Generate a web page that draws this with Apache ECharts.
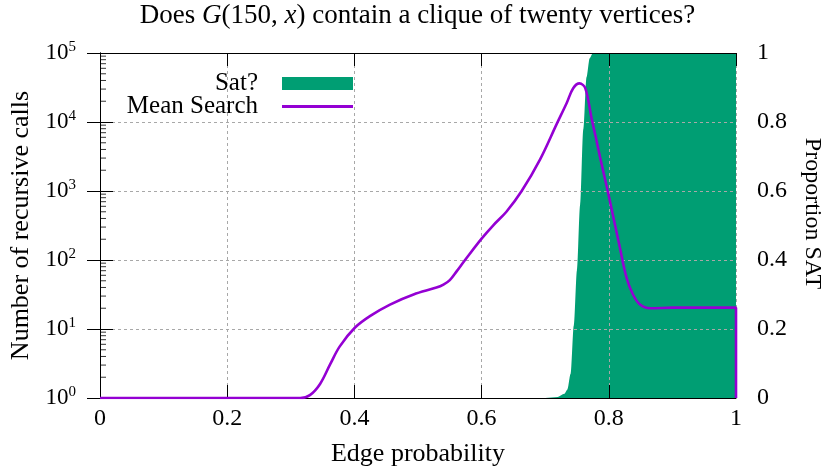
<!DOCTYPE html>
<html>
<head>
<meta charset="utf-8">
<script src="https://cdn.jsdelivr.net/npm/echarts@6/dist/echarts.min.js"></script>
<style>html,body{margin:0;padding:0;background:#fff}#c{width:835px;height:472px}</style>
</head>
<body>
<div id="c"></div>
<script>
// Mean Search: [edge probability, mean number of recursive calls]
const searchX = [0, 0.30, 0.315, 0.33, 0.346, 0.362, 0.377, 0.401, 0.425, 0.456, 0.493, 0.529, 0.540, 0.550, 0.561, 0.574, 0.600, 0.618, 0.639, 0.663, 0.692, 0.718, 0.734, 0.744, 0.754, 0.763, 0.773, 0.780, 0.786, 0.799, 0.817, 0.828, 0.838, 0.849, 0.865, 0.90, 0.99, 1.0, 1.0];
const searchY = [1, 1, 1.0, 1.1, 1.6, 3.1, 5.6, 10.5, 15.5, 22.6, 31.6, 39.8, 44, 51, 69, 100, 204, 316, 501, 1000, 2880, 9330, 19050, 30900, 36300, 30900, 11200, 5750, 3160, 933, 158, 55, 31.6, 22.6, 20.0, 20.4, 20.4, 20.4, 1];
// Sat?: [edge probability, proportion SAT]
const satX = [0, 0.70, 0.72, 0.73, 0.735, 0.74, 0.745, 0.75, 0.755, 0.76, 0.765, 0.77, 0.775, 1.0];
const satY = [0, 0, 0.003, 0.012, 0.025, 0.07, 0.21, 0.37, 0.56, 0.78, 0.93, 0.985, 1, 1];
// tick values
const leftMajorTicks = [1, 10, 100, 1000, 10000, 100000];
const leftMinorTicks = [2, 3, 4, 5, 6, 7, 8, 9, 20, 30, 40, 50, 60, 70, 80, 90,
  200, 300, 400, 500, 600, 700, 800, 900, 2000, 3000, 4000, 5000, 6000, 7000, 8000, 9000,
  20000, 30000, 40000, 50000, 60000, 70000, 80000, 90000];
const xTicks = [0, 0.2, 0.4, 0.6, 0.8, 1];
const rightTicks = [0, 0.2, 0.4, 0.6, 0.8, 1];

const FONT = 'Liberation Serif';
const FS = 24;
const GREEN = '#009e73', PURPLE = '#9400d3';
const gridLine = {show: true, lineStyle: {color: '#a8a8a8', type: [3, 3], width: 1}};
const blackLine = {show: true, lineStyle: {color: '#000', width: 1}};
const txt = {fontFamily: FONT, fontSize: FS, color: '#000'};
const nameTxt = {fontFamily: FONT, fontSize: 26, color: '#000'};
const legTxt = {fontFamily: FONT, fontSize: 25, color: '#000'};

const chart = echarts.init(document.getElementById('c'));
chart.setOption({
  animation: false,
  title: {
    text: '{n|Does }{i|G}{n|(150, }{i|x}{n|) contain a clique of twenty vertices?}',
    left: 'center', top: 2, padding: 0,
    textStyle: {
      fontWeight: 'normal',
      rich: {
        n: {fontFamily: FONT, fontSize: 27, color: '#000', fontWeight: 'normal'},
        i: {fontFamily: FONT, fontSize: 27, fontStyle: 'italic', color: '#000', fontWeight: 'normal'}
      }
    }
  },
  legend: [
    {data: [{name: 'Sat?', icon: 'rect'}], right: 482, top: 71, padding: 0, align: 'right', itemWidth: 71, itemHeight: 13,
     textStyle: Object.assign({padding: [0, 19, 0, 0]}, legTxt)},
    {data: [{name: 'Mean Search', icon: 'rect'}], right: 482, top: 94, padding: 0, align: 'right', itemWidth: 71, itemHeight: 3,
     textStyle: Object.assign({padding: [0, 19, 0, 0]}, legTxt)}
  ],
  grid: {left: 100, right: 99, top: 53, bottom: 71, containLabel: false},
  xAxis: [
    {type: 'value', min: 0, max: 1, interval: 0.2, position: 'bottom', z: 5,
     name: 'Edge probability', nameLocation: 'middle', nameGap: 43,
     nameTextStyle: nameTxt,
     axisLine: blackLine,
     axisTick: {inside: true, length: 13, lineStyle: {color: '#000'}},
     axisLabel: Object.assign({margin: 9}, txt),
     splitLine: gridLine},
    {type: 'value', min: 0, max: 1, interval: 0.2, position: 'top', z: 5,
     axisLine: blackLine,
     axisTick: {inside: true, length: 13, lineStyle: {color: '#000'}},
     axisLabel: {show: false}, splitLine: {show: false}}
  ],
  yAxis: [
    {type: 'log', logBase: 10, min: 1, max: 100000, position: 'left', z: 5,
     name: 'Number of recursive calls', nameLocation: 'middle', nameGap: 63, nameRotate: 90,
     nameTextStyle: nameTxt,
     axisLine: blackLine,
     axisTick: {inside: true, length: 13, lineStyle: {color: '#000'}},
     axisLabel: {margin: 24,
       formatter: v => '{b|10}{s|' + Math.round(Math.log10(v)) + '}',
       rich: {b: {fontFamily: FONT, fontSize: 23, color: '#000'},
              s: {fontFamily: FONT, fontSize: 15, color: '#000', verticalAlign: 'top', padding: [0, 0, 12, 0]}}},
     splitLine: gridLine},
    {type: 'value', min: 0, max: 1, interval: 0.2, position: 'right', z: 5,
     name: 'Proportion SAT', nameLocation: 'middle', nameGap: 64, nameRotate: -90,
     nameTextStyle: Object.assign({padding: [0, 24, 0, 0]}, txt),
     axisLine: blackLine,
     axisTick: {inside: true, length: 13, lineStyle: {color: '#000'}},
     axisLabel: Object.assign({margin: 21}, txt),
     splitLine: {show: false}}
  ],
  series: [
    {name: 'Sat?', type: 'line', xAxisIndex: 0, yAxisIndex: 1, z: 2,
     data: satX.map((x, i) => [x, satY[i]]), symbol: 'none', smooth: 0.3, smoothMonotone: 'x',
     itemStyle: {color: GREEN}, lineStyle: {width: 0, color: GREEN}, areaStyle: {color: GREEN, opacity: 1}},
    {name: 'Mean Search', type: 'line', xAxisIndex: 0, yAxisIndex: 0, z: 10,
     data: searchX.map((x, i) => [x, searchY[i]]), symbol: 'none', smooth: 0.35,
     itemStyle: {color: PURPLE}, lineStyle: {width: 2.6, color: PURPLE}},
    {name: 'minor ticks', type: 'scatter', xAxisIndex: 0, yAxisIndex: 0, z: 11, silent: true, clip: false,
     data: leftMinorTicks.map(v => [0, v]), symbol: 'rect', symbolSize: [6, 1], symbolOffset: [3, 0],
     itemStyle: {color: '#000'}}
  ]
});
</script>
</body>
</html>
